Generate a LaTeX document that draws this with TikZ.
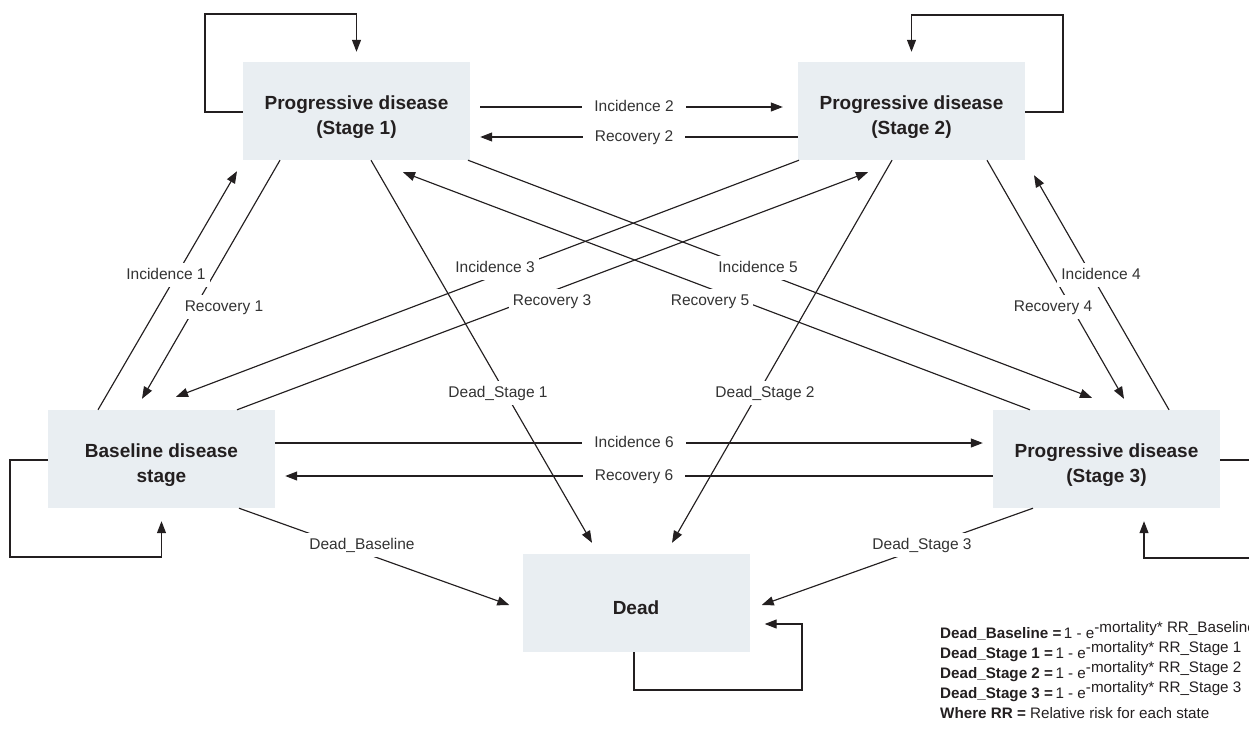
\documentclass[tikz,border=0pt]{standalone}
\usepackage{fontspec}
\setmainfont{Liberation Sans}
\usetikzlibrary{arrows.meta,calc}
\definecolor{boxfill}{HTML}{E9EEF2}
\definecolor{ink}{HTML}{231F20}
\definecolor{labelink}{HTML}{333333}
\newcommand\raisedexp[1]{\raisebox{5.5pt}{#1}}
% strut that pushes box text a little below the box centre
\newcommand\toppad[1]{\rule{0pt}{#1}}

\begin{document}
\begin{tikzpicture}[x=1pt,y=-1pt,
  state/.style={fill=boxfill, minimum width=227pt, minimum height=98pt, inner sep=0pt,
    align=center, text=ink, font=\fontsize{19}{25.5}\selectfont\bfseries},
  flow/.style={draw=ink, line width=1.15pt, -{Triangle[length=12pt,width=9pt]}},
  tag/.style={fill=white, text=labelink, inner xsep=4pt, inner ysep=5pt,
    text height=11.5pt, text depth=3pt, font=\fontsize{15.5}{18}\selectfont},
  wide tag/.style={tag, inner xsep=12pt},
  formula/.style={anchor=base west, inner sep=0pt, text=ink, font=\fontsize{15.2}{20}\selectfont}]

\useasboundingbox (0,0) rectangle (1249,731);

% states
\node[state] (s1)   at (356.5,111) {\toppad{26pt}Progressive disease\\(Stage 1)};
\node[state] (s2)   at (911.5,111) {\toppad{26pt}Progressive disease\\(Stage 2)};
\node[state] (base) at (161.5,459) {\toppad{26pt}Baseline disease\\stage};
\node[state] (s3)   at (1106.5,459) {\toppad{26pt}Progressive disease\\(Stage 3)};
\node[state] (dead) at (636,603) {\toppad{23pt}Dead};

% corners of the self loops
\coordinate (c1) at (205,14);
\coordinate (c2) at (1063,15);
\coordinate (cb) at (10,557);
\coordinate (c3) at (1262,558);
\coordinate (cd) at (802,690);

% self loops
\draw[flow] ($(s1.west)+(0,1)$) -| (c1) -| ($(s1.north)+(0,-10)$);
\draw[flow] ($(s2.east)+(0,1)$) -| (c2) -| ($(s2.north)+(0,-10)$);
\draw[flow] ($(base.west)+(0,1)$) -| (cb) -| ($(base.south)+(0,13)$);
\draw[flow] ($(s3.east)+(0,1)$) -| (c3) -| ($(s3.south)+(37.5,13)$);
\draw[flow] ($(dead.south)+(-2,0)$) |- (cd) |- ($(dead.east)+(15,21)$);

% horizontal transitions
\draw[flow] ($(s1.east)+(10,-4)$) -- ($(s2.west)+(-15,-4)$);
\draw[flow] ($(s2.west)+(0,26)$) -- ($(s1.east)+(10,26)$);
\draw[flow] ($(base.east)+(0,-16)$) -- ($(s3.west)+(-10,-16)$);
\draw[flow] ($(s3.west)+(0,17)$) -- ($(base.east)+(10,17)$);

% diagonal transitions
\draw[flow] ($(base.north)+(-63.5,0)$) -- ($(s1.south)+(-119.5,11)$);
\draw[flow] ($(s1.south)+(-76.5,0)$) -- ($(base.north)+(-19.5,-11)$);
\draw[flow] ($(s2.south)+(-112.5,0)$) -- ($(base.north)+(14.5,-13)$);
\draw[flow] ($(base.north)+(75.5,0)$) -- ($(s2.south)+(-43.5,12)$);
\draw[flow] ($(s1.south)+(111.5,0)$) -- ($(s3.north)+(-14.5,-12)$);
\draw[flow] ($(s3.north)+(-76.5,0)$) -- ($(s1.south)+(46.5,12)$);
\draw[flow] ($(s3.north)+(62.5,0)$) -- ($(s2.south)+(122.5,15)$);
\draw[flow] ($(s2.south)+(75.5,0)$) -- ($(s3.north)+(17.5,-11)$);

% transitions to death
\draw[flow] ($(s1.south)+(14.5,0)$) -- ($(dead.north)+(-44,-11)$);
\draw[flow] ($(s2.south)+(-19.5,0)$) -- ($(dead.north)+(36,-11)$);
\draw[flow] ($(base.south)+(77.5,0)$) -- ($(dead.west)+(-13,2)$);
\draw[flow] ($(s3.south)+(-73.5,0)$) -- ($(dead.east)+(12,2)$);

% transition labels
\node[wide tag] (linc2) at (634,107) {Incidence 2};
\node[wide tag] (lrec2) at (634,137) {Recovery 2};
\node[wide tag] (linc6) at (634,443) {Incidence 6};
\node[wide tag] (lrec6) at (634,476) {Recovery 6};
\node[tag] (linc1) at (166,275) {Incidence 1};
\node[tag] (lrec1) at (224,307) {Recovery 1};
\node[tag] (linc4) at (1101,275) {Incidence 4};
\node[tag] (lrec4) at (1053,307) {Recovery 4};
\node[tag] (linc3) at (495,268) {Incidence 3};
\node[tag] (lrec3) at (552,301) {Recovery 3};
\node[tag] (linc5) at (758,268) {Incidence 5};
\node[tag] (lrec5) at (710,301) {Recovery 5};
\node[tag] (lds1)  at (498,393) {Dead\_Stage 1};
\node[tag] (lds2)  at (765,393) {Dead\_Stage 2};
\node[tag] (ldb)   at (362,545) {Dead\_Baseline};
\node[tag] (lds3)  at (922,545) {Dead\_Stage 3};

% mortality formulas
\node[formula] (f1) at (940,638) {\textbf{Dead\_Baseline =}\,1 - e\raisedexp{-mortality* RR\_Baseline}};
\node[formula] (f2) at (940,658) {\textbf{Dead\_Stage 1 =}\,1 - e\raisedexp{-mortality* RR\_Stage 1}};
\node[formula] (f3) at (940,678) {\textbf{Dead\_Stage 2 =}\,1 - e\raisedexp{-mortality* RR\_Stage 2}};
\node[formula] (f4) at (940,698) {\textbf{Dead\_Stage 3 =}\,1 - e\raisedexp{-mortality* RR\_Stage 3}};
\node[formula] (f5) at (940,718) {\textbf{Where RR =} Relative risk for each state};
\end{tikzpicture}
\end{document}
